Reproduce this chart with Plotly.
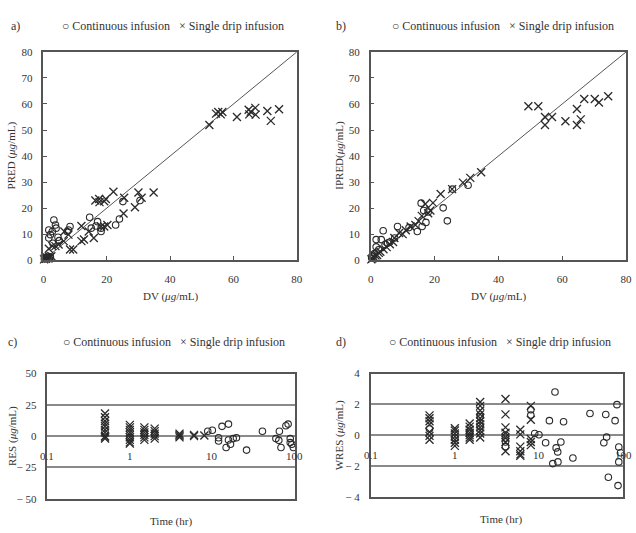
import math
import plotly.graph_objects as go

W, H = 636, 533

# ---------------- data ----------------
identity_line = [0, 80]

a_cont_x = [0.3, 0.6, 1.0, 1.4, 1.8, 2.2, 1.7, 2.8, 3.3, 3.8, 4.0, 1.7, 4.6, 2.2, 7.9, 8.4, 7.5,
            14.6, 15.1, 16.6, 17.1, 18.2, 18.2, 22.8, 24.0, 25.1, 30.5, 3.0, 5.0]
a_cont_y = [0.5, 1.0, 0.8, 1.5, 0.6, 1.2, 11.6, 11.0, 15.4, 13.5, 12.3, 8.5, 8.8, 9.8, 11.6, 12.9, 11.0,
            16.5, 12.3, 13.1, 14.8, 11.0, 12.3, 13.5, 15.8, 22.5, 22.9, 6.5, 7.5]
a_single_x = [0.2, 0.5, 0.8, 1.2, 1.6, 2.0, 2.5, 1.7, 2.8, 3.8, 4.8, 6.4, 6.6, 7.9, 8.4, 9.4, 12.0, 12.8,
              12.0, 14.3, 15.9, 18.2, 19.2, 20.2, 16.4, 17.6, 17.7, 19.2, 19.7, 22.1, 25.5, 25.3, 28.9,
              30.0, 31.0, 34.8, 52.4, 54.5, 55.2, 56.0, 56.5, 61.1, 64.8, 65.0, 65.5, 66.9, 67.0, 70.7,
              71.8, 74.4]
a_single_y = [0.3, 0.8, 0.5, 1.0, 0.6, 1.2, 1.5, 4.4, 5.4, 5.4, 6.0, 7.3, 11.0, 9.8, 4.1, 4.1, 7.3, 7.9,
              13.1, 11.0, 8.5, 12.9, 12.9, 13.5, 22.9, 23.5, 22.3, 22.6, 23.5, 26.3, 24.0, 17.9, 20.3,
              26.0, 24.0, 26.0, 51.9, 56.3, 56.9, 56.0, 56.9, 55.0, 57.8, 56.0, 57.0, 58.5, 55.9, 57.3,
              53.5, 58.0]

b_cont_x = [0.3, 0.8, 1.2, 1.7, 1.7, 3.3, 3.9, 5.3, 2.5, 7.5, 8.4, 14.6, 16.1, 16.6, 15.8, 17.3, 22.7,
            24.0, 25.6, 30.5, 12.0, 18.0, 4.5, 6.0]
b_cont_y = [0.8, 1.5, 2.5, 5.1, 7.9, 7.9, 11.3, 6.6, 4.0, 8.5, 12.9, 11.0, 12.9, 19.1, 21.9, 14.5, 20.1,
            15.1, 27.3, 28.8, 12.5, 18.5, 6.0, 7.0]
b_single_x = [0.2, 0.5, 1.0, 1.5, 2.0, 2.5, 3.0, 4.0, 5.0, 6.0, 7.0, 7.4, 8.9, 10.0, 11.0, 12.5, 14.0,
              15.0, 16.0, 17.1, 18.0, 18.7, 19.5, 21.9, 25.5, 28.9, 31.2, 34.6, 49.4, 52.5, 54.6, 56.8,
              54.6, 61.0, 64.6, 64.6, 65.8, 66.9, 70.2, 71.5, 74.4]
b_single_y = [0.3, 0.6, 1.2, 1.8, 2.0, 2.8, 3.2, 4.2, 5.0, 6.1, 7.0, 8.5, 10.4, 10.0, 11.5, 12.9, 13.5,
              15.0, 17.0, 21.6, 18.0, 19.1, 22.0, 25.4, 27.3, 29.8, 31.6, 33.8, 59.1, 59.1, 55.0, 55.0,
              51.9, 53.4, 58.1, 51.9, 54.1, 61.9, 61.9, 60.6, 63.0]

c_single_t = [0.5, 0.5, 0.5, 0.5, 0.5, 0.5, 0.5, 0.5, 0.5, 0.5,
              1, 1, 1, 1, 1, 1, 1, 1, 1,
              1.5, 1.5, 1.5, 1.5, 1.5, 1.5,
              2, 2, 2, 2, 2,
              4, 4, 4, 4,
              6, 6, 8]
c_single_res = [18, 15, 12, 10, 8, 5, 3, 0, -1, -2,
                9, 7, 5, 3, 1, -1, -3, -5, -6,
                7, 5, 3, 1, -1, -3,
                6, 4, 2, 0, -2,
                2, 1, 0, -1,
                1, 0, 0.5]
c_cont_t = [0.5, 1, 1.5, 2, 8.8, 10, 11.9, 11.9, 13.1, 15.7, 14.7, 15.7, 16.6, 17.9, 19.6, 26, 40.5,
            59, 65, 64, 68, 78, 83, 88, 88, 92, 96]
c_cont_res = [4, -1, 2, 1, 3.9, 4.7, -1.3, -3.9, 7.8, 9.6, -9.1, -3.1, -6.5, -2, -1.3, -11.2, 3.9,
              -2, 3.9, -3.4, -9.1, 8.3, 9.6, -2, -5.2, -6.5, -9.1]

d_single_t = [0.5, 0.5, 0.5, 0.5, 0.5, 0.5, 0.5,
              1, 1, 1, 1, 1, 1, 1,
              1.5, 1.5, 1.5, 1.5, 1.5, 1.5, 1.5,
              2, 2, 2, 2, 2, 2, 2, 2, 2, 2, 2,
              4, 4, 4, 4, 4, 4, 4,
              6, 6, 6, 6, 6, 6,
              8, 8, 8, 8, 8]
d_single_wres = [1.28, 1.1, 0.9, 0.7, 0.2, -0.05, -0.3,
                 0.45, 0.3, 0.1, -0.1, -0.3, -0.5, -0.7,
                 0.75, 0.55, 0.35, 0.15, 0.0, -0.15, -0.3,
                 2.15, 1.9, 1.6, 1.35, 1.1, 0.9, 0.7, 0.5, 0.3, 0.1, -0.15,
                 2.35, 1.35, 0.5, 0.15, -0.15, -0.45, -1.05,
                 0.35, 0.05, -0.75, -1.05, -1.25, -1.35,
                 1.9, 1.0, -0.25, -0.45, -0.65]
d_cont_t = [0.5, 1, 1.5, 2, 2, 4, 4, 4, 4, 8, 8, 8.9, 10, 12, 13.3, 14.6, 15.5, 16, 16.7, 16.8, 18.2,
            19.6, 25.3, 40.4, 59, 62.2, 63.7, 66.8, 80.3, 84.5, 88.9, 88.9, 87, 93.3]
d_cont_wres = [0.4, -0.2, 0.2, 0.6, 1.2, 0.0, -0.2, -0.45, -0.75, 1.65, 1.3, 0.1, 0.02, -0.5, 0.94,
               -1.85, 2.8, -0.83, -1.09, -1.74, -0.45, 0.87, -1.49, 1.4, -0.5, 1.34, -0.13, -2.74,
               0.94, 1.98, -0.77, -1.74, -3.28, -1.15]

xy_ticks = [0, 20, 40, 60, 80]
pred_ticks = [0, 10, 20, 30, 40, 50, 60, 70, 80]
time_ticks = [0.1, 1, 10, 100]
time_tick_text = ["0.1", "1", "10", "100"]
res_ticks = [-50, -25, 0, 25, 50]
res_tick_text = ["− 50", "− 25", "0", "25", "50"]
wres_ticks = [-4, -2, 0, 2, 4]
wres_tick_text = ["− 4", "− 2", "0", "2", "4"]

# ---------------- style ----------------
FONT = "Liberation Serif"
TXT = "#333333"
AX = "#555555"
GRID = "#8a8a8a"
MK = "#2a2a2a"


def px_x(p):
    return p / W


def px_y(p):
    return 1 - p / H


circ = dict(symbol="circle-open", size=6.5, color=MK, line=dict(width=1.1, color=MK))
cross = dict(symbol="x-thin-open", size=8, color=MK, line=dict(width=1.3, color=MK))

fig = go.Figure()

# panel a
fig.add_trace(go.Scatter(x=identity_line, y=identity_line, mode="lines", line=dict(color="#555", width=1),
                         xaxis="x", yaxis="y", showlegend=False, hoverinfo="skip"))
fig.add_trace(go.Scatter(x=a_cont_x, y=a_cont_y, mode="markers", marker=circ, xaxis="x", yaxis="y",
                         cliponaxis=False, showlegend=False, name="Continuous infusion"))
fig.add_trace(go.Scatter(x=a_single_x, y=a_single_y, mode="markers", marker=cross, xaxis="x", yaxis="y",
                         cliponaxis=False, showlegend=False, name="Single drip infusion"))
# panel b
fig.add_trace(go.Scatter(x=identity_line, y=identity_line, mode="lines", line=dict(color="#555", width=1),
                         xaxis="x2", yaxis="y2", showlegend=False, hoverinfo="skip"))
fig.add_trace(go.Scatter(x=b_cont_x, y=b_cont_y, mode="markers", marker=circ, xaxis="x2", yaxis="y2",
                         cliponaxis=False, showlegend=False, name="Continuous infusion"))
fig.add_trace(go.Scatter(x=b_single_x, y=b_single_y, mode="markers", marker=cross, xaxis="x2", yaxis="y2",
                         cliponaxis=False, showlegend=False, name="Single drip infusion"))
# panel c
fig.add_trace(go.Scatter(x=c_single_t, y=c_single_res, mode="markers", marker=cross, xaxis="x3", yaxis="y3",
                         cliponaxis=False, showlegend=False, name="Single drip infusion"))
fig.add_trace(go.Scatter(x=c_cont_t, y=c_cont_res, mode="markers", marker=circ, xaxis="x3", yaxis="y3",
                         cliponaxis=False, showlegend=False, name="Continuous infusion"))
# panel d
fig.add_trace(go.Scatter(x=d_single_t, y=d_single_wres, mode="markers", marker=cross, xaxis="x4", yaxis="y4",
                         cliponaxis=False, showlegend=False, name="Single drip infusion"))
fig.add_trace(go.Scatter(x=d_cont_t, y=d_cont_wres, mode="markers", marker=circ, xaxis="x4", yaxis="y4",
                         cliponaxis=False, showlegend=False, name="Continuous infusion"))

tickfont = dict(family=FONT, size=11, color=TXT)

common_lin_x = dict(range=[0, 80], tickvals=xy_ticks, ticks="inside", ticklen=4, tickcolor=AX,
                    showline=True, linecolor=AX, linewidth=1.5, mirror=True, showgrid=False,
                    zeroline=False, tickfont=tickfont, ticklabelstandoff=8)
common_lin_y = dict(range=[0, 80], tickvals=pred_ticks, ticks="inside", ticklen=4, tickcolor=AX,
                    showline=True, linecolor=AX, linewidth=1.5, mirror=True, showgrid=False,
                    zeroline=False, tickfont=tickfont, ticklabelstandoff=7)
common_log_x = dict(type="log", range=[-1, 2], showticklabels=False, ticks="", showline=True,
                    linecolor=AX, linewidth=1.5, mirror=True, showgrid=False, zeroline=False)

yA = [px_y(260), px_y(47)]
yC = [px_y(504), px_y(376)]
yD = [px_y(502), px_y(376)]

fig.update_layout(
    width=W, height=H,
    margin=dict(l=0, r=0, t=0, b=0),
    paper_bgcolor="white", plot_bgcolor="white",
    font=dict(family=FONT, color=TXT),
    showlegend=False,
    xaxis=dict(domain=[px_x(41), px_x(298)], anchor="y", **common_lin_x),
    yaxis=dict(domain=yA, anchor="x", **common_lin_y),
    xaxis2=dict(domain=[px_x(373), px_x(632)], anchor="y2", **common_lin_x),
    yaxis2=dict(domain=yA, anchor="x2", **common_lin_y),
    xaxis3=dict(domain=[px_x(45), px_x(296)], anchor="y3", **common_log_x),
    yaxis3=dict(domain=yC, anchor="x3", range=[-50, 50], tickvals=res_ticks, ticktext=res_tick_text,
                ticks="", showline=True, linecolor=AX, linewidth=1.5, mirror=True, showgrid=True,
                gridcolor=GRID, gridwidth=1.5, zeroline=True, zerolinecolor=GRID, zerolinewidth=1.5,
                tickfont=tickfont, ticklabelstandoff=7),
    xaxis4=dict(domain=[px_x(373), px_x(629)], anchor="y4", **common_log_x),
    yaxis4=dict(domain=yD, anchor="x4", range=[-4, 4], tickvals=wres_ticks, ticktext=wres_tick_text,
                ticks="", showline=True, linecolor=AX, linewidth=1.5, mirror=True, showgrid=True,
                gridcolor=GRID, gridwidth=1.5, zeroline=True, zerolinecolor=GRID, zerolinewidth=1.5,
                tickfont=tickfont, ticklabelstandoff=7),
)

ann = []


def text(x, y, s, size=12, angle=0, xanchor="center"):
    ann.append(dict(x=px_x(x), y=px_y(y), xref="paper", yref="paper", text=s, showarrow=False,
                    textangle=angle, xanchor=xanchor, yanchor="middle",
                    font=dict(family=FONT, size=size, color=TXT)))


legend_text = "○ Continuous infusion   × Single drip infusion"
# panel labels
text(6, 20, "a)", 12, xanchor="left")
text(336, 20, "b)", 12, xanchor="left")
text(3, 344, "c)", 12, xanchor="left")
text(336, 344, "d)", 12, xanchor="left")
# legends
text(172, 20, legend_text, 12)
text(507, 20, legend_text, 12)
text(173, 344, legend_text, 12)
text(504, 344, legend_text, 12)
# axis titles
text(9, 153, "PRED (<i>μg</i>/mL)", 11, angle=-90)
text(341, 153, "IPRED(<i>μg</i>/mL)", 11, angle=-90)
text(170, 297, "DV (<i>μg</i>/mL)", 11)
text(503, 297, "DV (<i>μg</i>/mL)", 11)
text(9, 440, "RES (<i>μg</i>/mL)", 11, angle=-90)
text(341, 439, "WRES (<i>μg</i>/mL)", 11, angle=-90)
text(170, 527, "Time (hr)", 11)
text(505, 525, "Time (hr)", 11)

# time tick labels sitting along the zero line
for xa, ya in (("x3", "y3"), ("x4", "y4")):
    for t, lbl in zip(time_ticks, time_tick_text):
        ann.append(dict(x=math.log10(t), y=0, xref=xa, yref=ya, text=lbl, showarrow=False,
                        xanchor="center", yanchor="middle", yshift=-20,
                        font=dict(family=FONT, size=11, color=TXT)))

fig.update_layout(annotations=ann)

fig.write_html("out.html")
